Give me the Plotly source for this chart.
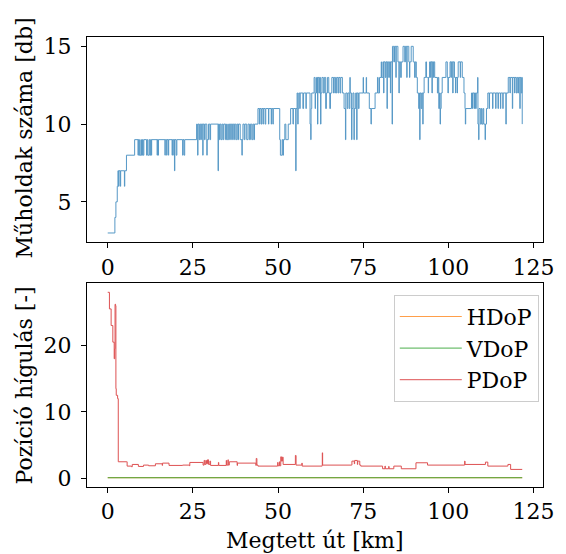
import plotly.graph_objects as go

# ---- Data ----
sat_km = [0.0, 2.1, 2.4, 2.8, 3.0, 3.2, 3.3, 3.7, 3.8, 4.9, 5.0, 5.5, 7.9,
          8.9, 9.0, 9.2, 9.4, 9.5, 9.9, 10.0, 10.2, 10.4, 10.6,
          11.4, 11.6, 11.8, 12.2, 12.4, 12.6, 12.8, 12.9,
          14.5, 14.6, 14.8, 14.9,
          16.8, 16.9, 17.3, 17.4, 17.8, 17.9,
          18.9, 19.0, 19.4, 19.5, 19.6, 19.7, 20.1, 20.3,
          22.0, 22.1, 22.4, 22.6,
          26.1, 26.3, 26.4, 26.5, 26.8, 27.0, 27.3, 27.5, 27.9, 28.0, 28.4, 28.6, 29.1, 29.2, 29.6, 30.0, 30.2,
          32.4, 32.5, 32.8, 33.0, 33.3, 33.6, 33.9, 34.1, 34.6, 34.9, 35.1, 35.5, 35.8, 36.0, 36.4, 36.6,
          37.0, 37.2, 37.6, 37.9, 38.2, 38.4, 38.9, 39.4, 39.5, 39.7, 40.1, 40.3, 40.8, 41.2, 41.6, 41.9,
          42.3, 42.6, 42.9, 43.1,
          44.1, 44.5, 44.6, 45.0, 45.2, 45.6, 45.7, 46.2, 46.4, 47.2, 47.3, 48.0, 48.1, 48.5, 48.6,
          50.5, 50.7, 51.2, 51.4, 51.6, 52.0, 52.3, 53.0, 53.7,
          54.4, 54.5, 55.2, 55.3, 55.6, 55.8, 55.9, 56.1,
          56.4, 56.5, 57.3, 57.5, 58.2, 58.3,
          59.4, 59.6, 59.7, 59.9,
          60.6, 60.9, 61.0, 61.3, 61.6, 61.7, 62.0, 62.2, 62.5, 62.6, 62.9, 63.3, 63.6, 64.0, 64.2, 64.5,
          64.9, 65.2, 65.4, 65.8, 66.3, 66.5, 66.9, 67.2, 67.6, 67.8, 68.2, 68.4, 68.9,
          69.4, 69.8, 69.9, 70.3, 70.5, 70.9, 71.1, 71.2, 71.6, 71.7, 72.0, 72.3, 72.4, 72.8, 73.1, 73.2,
          73.6, 73.8,
          75.0, 75.1, 75.9, 76.0, 76.8, 77.3, 77.4, 78.5, 79.2, 79.4, 79.8, 80.3, 80.4, 80.8, 81.0, 81.1,
          81.5, 81.7, 82.0, 82.1, 82.5, 82.7, 83.0, 83.1, 83.5, 83.6, 84.0, 84.2, 84.6, 84.7, 85.2, 85.5,
          85.6, 86.0, 86.2, 86.7, 87.2, 87.4, 87.8, 87.9, 88.4, 88.6, 88.7, 89.1, 89.7, 90.1, 90.3, 90.6,
          90.9, 91.3, 91.5, 91.6, 91.7, 92.0, 92.2, 92.5, 92.6, 92.9, 93.4, 93.6,
          93.9, 94.1, 94.2, 94.5, 94.8, 94.9, 95.2, 95.3, 95.6, 95.7, 96.0, 96.8, 97.0, 97.2, 97.4, 97.6,
          97.7, 97.9, 98.2, 99.3, 99.7, 99.9, 100.0, 100.5, 100.8, 100.9, 101.3, 101.4, 101.8, 102.1,
          102.2, 102.6, 102.7, 102.9, 103.5, 103.6, 104.1, 104.6, 104.9, 105.0, 105.1, 106.8, 107.1,
          107.2, 107.6, 107.7, 108.0, 108.2, 108.6, 108.7, 108.9, 109.0, 109.4, 109.7, 109.9, 110.2,
          110.4, 110.8, 110.9, 111.2, 111.6, 112.0, 112.1, 113.0, 113.1, 113.9, 114.0, 114.6, 114.7,
          115.3, 115.4, 116.0, 116.1, 116.9, 117.0, 117.6, 118.1, 118.2, 118.8, 118.9, 119.4, 119.5,
          119.9, 120.1, 120.4, 120.6, 121.0, 121.1, 121.4, 121.6, 121.7]
sat_db = [3, 4, 5, 6, 7, 6, 7, 6, 7, 6, 7, 8, 9,
          8, 9, 8, 9, 8, 9, 8, 9, 8, 9,
          8, 9, 8, 9, 8, 9, 8, 9,
          8, 9, 8, 9,
          8, 9, 8, 9, 8, 9,
          8, 9, 8, 9, 7, 9, 8, 9,
          8, 9, 8, 9,
          10, 9, 8, 10, 9, 10, 9, 10, 8, 10, 9, 10, 8, 9, 10, 9, 10,
          7, 10, 9, 10, 9, 10, 9, 10, 9, 10, 9, 10, 9, 10, 9, 10,
          9, 10, 9, 10, 9, 10, 9, 8, 9, 10, 9, 10, 9, 10, 9, 10,
          9, 10, 9, 10,
          11, 10, 11, 10, 11, 10, 11, 10, 11, 10, 11, 10, 11, 10, 11,
          9, 8, 9, 8, 9, 10, 9, 10, 11,
          10, 11, 7, 11, 12, 10, 11, 12,
          11, 12, 11, 12, 11, 12,
          10, 9, 11, 12,
          13, 11, 12, 13, 10, 13, 12, 13, 10, 12, 13, 12, 13, 11, 12, 13,
          12, 11, 12, 13, 12, 13, 12, 13, 12, 13, 12, 13, 12,
          11, 9, 12, 11, 12, 11, 13, 12, 9, 11, 12, 9, 11, 12, 9, 12,
          11, 12,
          13, 12, 13, 12, 11, 10, 11, 12, 13, 12, 13, 14, 13, 14, 12, 14,
          13, 14, 11, 14, 13, 14, 12, 14, 10, 15, 14, 15, 13, 15, 14, 12,
          14, 13, 14, 15, 14, 15, 13, 15, 14, 13, 14, 15, 14, 13, 14, 13,
          12, 11, 12, 9, 12, 11, 12, 10, 12, 13, 14, 13,
          13, 12, 13, 14, 13, 14, 12, 14, 13, 14, 13, 12, 13, 11, 12, 10,
          11, 12, 13, 14, 13, 12, 13, 14, 13, 14, 12, 14, 13, 12,
          13, 12, 13, 14, 13, 14, 13, 12, 11, 10, 11, 12, 11,
          12, 11, 12, 11, 12, 13, 10, 9, 11, 10, 11, 10, 11,
          10, 9, 10, 11, 12, 11, 12, 11, 12, 11, 12, 11, 12,
          11, 12, 11, 12, 10, 12, 13, 12, 13, 11, 13, 12, 13,
          12, 13, 12, 13, 11, 13, 12, 13, 10]

dop_km = [0.0, 0.5, 1.0, 1.5, 1.9, 2.05, 2.15, 2.3, 2.4, 2.5, 2.9, 3.1, 5.6, 5.7,
          7.0, 7.2, 9.0, 10.5, 12.0, 14.0, 16.0, 16.1, 18.0, 22.0, 24.0, 24.1, 28.0, 28.3, 28.5,
          28.8, 29.0, 29.3, 29.6, 30.0, 30.2, 32.5, 32.6, 34.8, 34.9, 35.3, 35.4, 35.7, 38.0,
          38.1, 43.5, 43.6, 43.8, 44.1, 49.9, 50.0, 50.4, 50.5, 50.8, 51.0, 51.3, 51.5, 55.0,
          55.1, 55.3, 57.0, 57.1, 62.9, 63.0, 63.1, 71.6, 71.7, 72.4, 72.5, 73.3, 73.4, 74.0,
          74.3, 80.6, 80.7, 81.4, 81.5, 82.5, 82.6, 84.0, 86.2, 86.7, 90.5, 93.9, 104.7, 104.8,
          104.9, 110.8, 110.9, 111.6, 117.3, 117.5, 118.3, 121.7]
pdop = [28.0, 25.5, 23.0, 20.5, 18.0, 19.5, 26.2, 26.0, 13.5, 12.5, 12.0, 2.5, 2.5, 1.85,
        1.75, 2.1, 1.8, 2.0, 1.9, 2.2, 1.95, 2.3, 1.95, 2.0, 1.9, 2.4, 2.0, 2.7, 2.1,
        2.7, 2.2, 2.8, 2.1, 2.6, 1.95, 2.4, 1.95, 2.7, 2.0, 2.8, 2.0, 2.5, 1.95,
        2.3, 1.95, 3.0, 2.0, 1.85, 2.4, 1.9, 2.5, 1.9, 3.25, 2.6, 3.2, 2.1, 2.1,
        3.45, 2.0, 2.3, 1.85, 1.9, 3.85, 2.0, 2.0, 2.6, 2.2, 2.7, 2.1, 2.6, 2.0,
        1.85, 1.85, 1.45, 1.85, 1.45, 1.8, 1.45, 1.85, 1.45, 1.45, 2.35, 2.0, 2.0, 2.6,
        2.1, 2.1, 2.45, 1.85, 1.85, 2.1, 1.35, 1.35]
hdop_km = [0.0, 121.7]
hdop = [0.1, 0.1]
vdop_km = [0.0, 121.7]
vdop = [0.1, 0.1]

x_ticks = [0, 25, 50, 75, 100, 125]
sat_ticks = [5, 10, 15]
dop_ticks = [0, 10, 20]

# ---- Figure ----
FONT = "DejaVu Serif"
FS = 22
W, H = 566, 554
L, R, T, B = 86.7, 13, 37.3, 66.7
ph = H - T - B
pw = W - L - R

def py2paper(py):
    return (H - B - py) / ph

fig = go.Figure()

fig.add_trace(go.Scatter(x=sat_km, y=sat_db, mode="lines", line=dict(color="#1f77b4", width=1, shape="hv"),
                         opacity=0.75, showlegend=False, xaxis="x", yaxis="y"))
fig.add_trace(go.Scatter(x=hdop_km, y=hdop, mode="lines", name="HDoP",
                         line=dict(color="#ff7f0e", width=1), opacity=0.75, xaxis="x2", yaxis="y2"))
fig.add_trace(go.Scatter(x=vdop_km, y=vdop, mode="lines", name="VDoP",
                         line=dict(color="#2ca02c", width=1), opacity=0.85, xaxis="x2", yaxis="y2"))
fig.add_trace(go.Scatter(x=dop_km, y=pdop, mode="lines", name="PDoP",
                         line=dict(color="#d62728", width=1, shape="hv"), opacity=0.8, xaxis="x2", yaxis="y2"))

axis_common = dict(showline=True, linecolor="black", linewidth=1, mirror=True, showgrid=False,
                   zeroline=False, ticks="outside", ticklen=5, tickwidth=1, tickcolor="black",
                   tickfont=dict(family=FONT, size=FS, color="black"))

xr = [-6.085, 127.8]
fig.update_layout(
    width=W, height=H, margin=dict(l=L, r=R, t=T, b=B),
    paper_bgcolor="white", plot_bgcolor="white",
    font=dict(family=FONT, size=FS, color="black"),
    xaxis=dict(domain=[0, 1], range=xr, tickvals=x_ticks, anchor="y", **axis_common),
    yaxis=dict(domain=[py2paper(242.6), 1], range=[2.4, 15.6], tickvals=sat_ticks, anchor="x",
               ticklabelstandoff=5, **axis_common),
    xaxis2=dict(domain=[0, 1], range=xr, tickvals=x_ticks, anchor="y2", **axis_common),
    yaxis2=dict(domain=[0, py2paper(283.3)], range=[-1.295, 29.4], tickvals=dop_ticks, anchor="x2",
                ticklabelstandoff=5, **axis_common),
    legend=dict(x=(548.7 - L) / pw, y=py2paper(295), xanchor="right", yanchor="top",
                bgcolor="rgba(255,255,255,0.8)", bordercolor="#cccccc", borderwidth=1,
                itemwidth=62,
                font=dict(family=FONT, size=FS, color="black")),
    annotations=[
        dict(text="Műholdak száma [db]", textangle=-90, xref="paper", yref="paper",
             x=(23 - L) / pw, y=py2paper(138), showarrow=False, xanchor="center", yanchor="middle",
             font=dict(family=FONT, size=FS, color="black")),
        dict(text="Pozíció hígulás [-]", textangle=-90, xref="paper", yref="paper",
             x=(23 - L) / pw, y=py2paper(386), showarrow=False, xanchor="center", yanchor="middle",
             font=dict(family=FONT, size=FS, color="black")),
        dict(text="Megtett út [km]", xref="paper", yref="paper",
             x=0.5, y=py2paper(541), showarrow=False, xanchor="center", yanchor="middle",
             font=dict(family=FONT, size=FS, color="black")),
    ],
)

fig.write_html("out.html")
